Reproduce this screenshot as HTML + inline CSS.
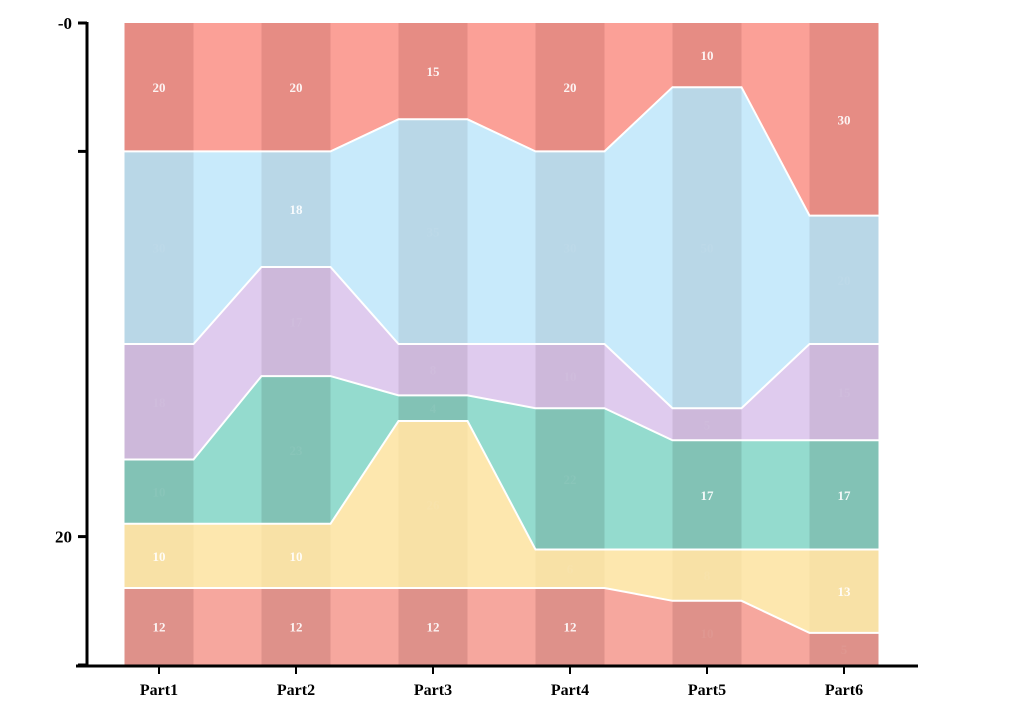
<!DOCTYPE html>
<html><head><meta charset="utf-8"><style>
body{margin:0;background:#fff;width:1009px;height:718px;overflow:hidden}
text{font-family:"Liberation Serif",serif;font-weight:bold}
</style></head><body>
<svg id="chart" width="1009" height="718" xmlns="http://www.w3.org/2000/svg">
<g id="layers"></g>
<g id="axes">
<line x1="87" y1="22" x2="87" y2="666" stroke="#000" stroke-width="3"/>
<line x1="76" y1="666" x2="918" y2="666" stroke="#000" stroke-width="3"/>
</g>
</svg>
<script>
const categories=["Part1","Part2","Part3","Part4","Part5","Part6"];
// series listed bottom to top
const seriesNames=["red-bottom","yellow","green","purple","blue","red-top"];
const redBottom=[12,12,12,12,10,5];
const yellow=[10,10,26,6,8,13];
const green=[10,23,4,22,17,17];
const purple=[18,17,8,10,5,15];
const blue=[30,18,35,30,50,20];
const redTop=[20,20,15,20,10,30];
const yTickValues=[0,20,80,100];
const yTickLabels=["","20","","-0"];
const labelVisible=[[1,1,1,1,0,0],[1,1,0,0,0,1],[0,0,0,0,1,1],[0,0,0,0,0,0],[0,1,0,0,0,0],[1,1,1,1,1,1]];
const series=[redBottom,yellow,green,purple,blue,redTop];
const barCol=["#DE918A","#F8E1A6","#82C2B5","#CDB8DA","#B9D7E7","#E68C84"];
const linkCol=["#F6A79E","#FDE7AE","#94DBCE","#DFCBEE","#C8EAFB","#FBA097"];
const NS="http://www.w3.org/2000/svg";
const x0=159,dx=137,bw=69,yb=665,yt=23;
const xc=i=>x0+i*dx;
const ys=v=>yb-v*(yb-yt)/100;
const g=document.getElementById('layers');
function mk(t,a){const e=document.createElementNS(NS,t);for(const k in a)e.setAttribute(k,a[k]);return e;}
let cum=categories.map(()=>0);
const bounds=[];
series.forEach((s,si)=>{
  const lo=cum.slice();const hi=cum.map((c,i)=>c+s[i]);
  const top=[],bot=[];
  categories.forEach((c,i)=>{top.push([xc(i)-bw/2,ys(hi[i])],[xc(i)+bw/2,ys(hi[i])]);bot.push([xc(i)-bw/2,ys(lo[i])],[xc(i)+bw/2,ys(lo[i])]);});
  const pts=top.concat(bot.reverse()).map(p=>p.join(',')).join(' ');
  const poly=mk('polygon',{points:pts,fill:linkCol[si]});
  
  
  g.appendChild(poly);
  categories.forEach((c,i)=>{
    const r=mk('rect',{x:xc(i)-bw/2,y:ys(hi[i]),width:bw,height:ys(lo[i])-ys(hi[i]),fill:barCol[si]});
    
    
    g.appendChild(r);
  });
  bounds.push(top);
  s.forEach((v,i)=>{
    const t=mk('text',{x:xc(i),y:(ys(lo[i])+ys(hi[i]))/2+5,'text-anchor':'middle','font-size':13,fill:'#fff','fill-opacity':labelVisible[si][i]?0.9:0.06});
    t.textContent=v;
    
    
    g.appendChild(t);
  });
  cum=hi;
});
bounds.slice(0,-1).forEach(b=>{
  const l=mk('polyline',{points:b.map(p=>p.join(',')).join(' '),fill:'none',stroke:'#fff','stroke-width':2});
  
  
  g.appendChild(l);
});
const ax=document.getElementById('axes');
yTickValues.forEach((v,i)=>{
  const y=ys(v);
  const l=mk('line',{x1:78,x2:87,y1:y,y2:y,stroke:'#000','stroke-width':3});
  
  
  ax.appendChild(l);
  if(yTickLabels[i]){
    const t=mk('text',{x:72,y:y+6,'text-anchor':'end','font-size':17,fill:'#000'});
    t.textContent=yTickLabels[i];
    
    
    ax.appendChild(t);
  }
});
categories.forEach((c,i)=>{
  const l=mk('line',{x1:xc(i),x2:xc(i),y1:666,y2:674,stroke:'#000','stroke-width':2});
  
  
  ax.appendChild(l);
  const t=mk('text',{x:xc(i),y:695,'text-anchor':'middle','font-size':16,fill:'#000'});
  t.textContent=c;
  
  
  ax.appendChild(t);
});
</script>
</body></html>
